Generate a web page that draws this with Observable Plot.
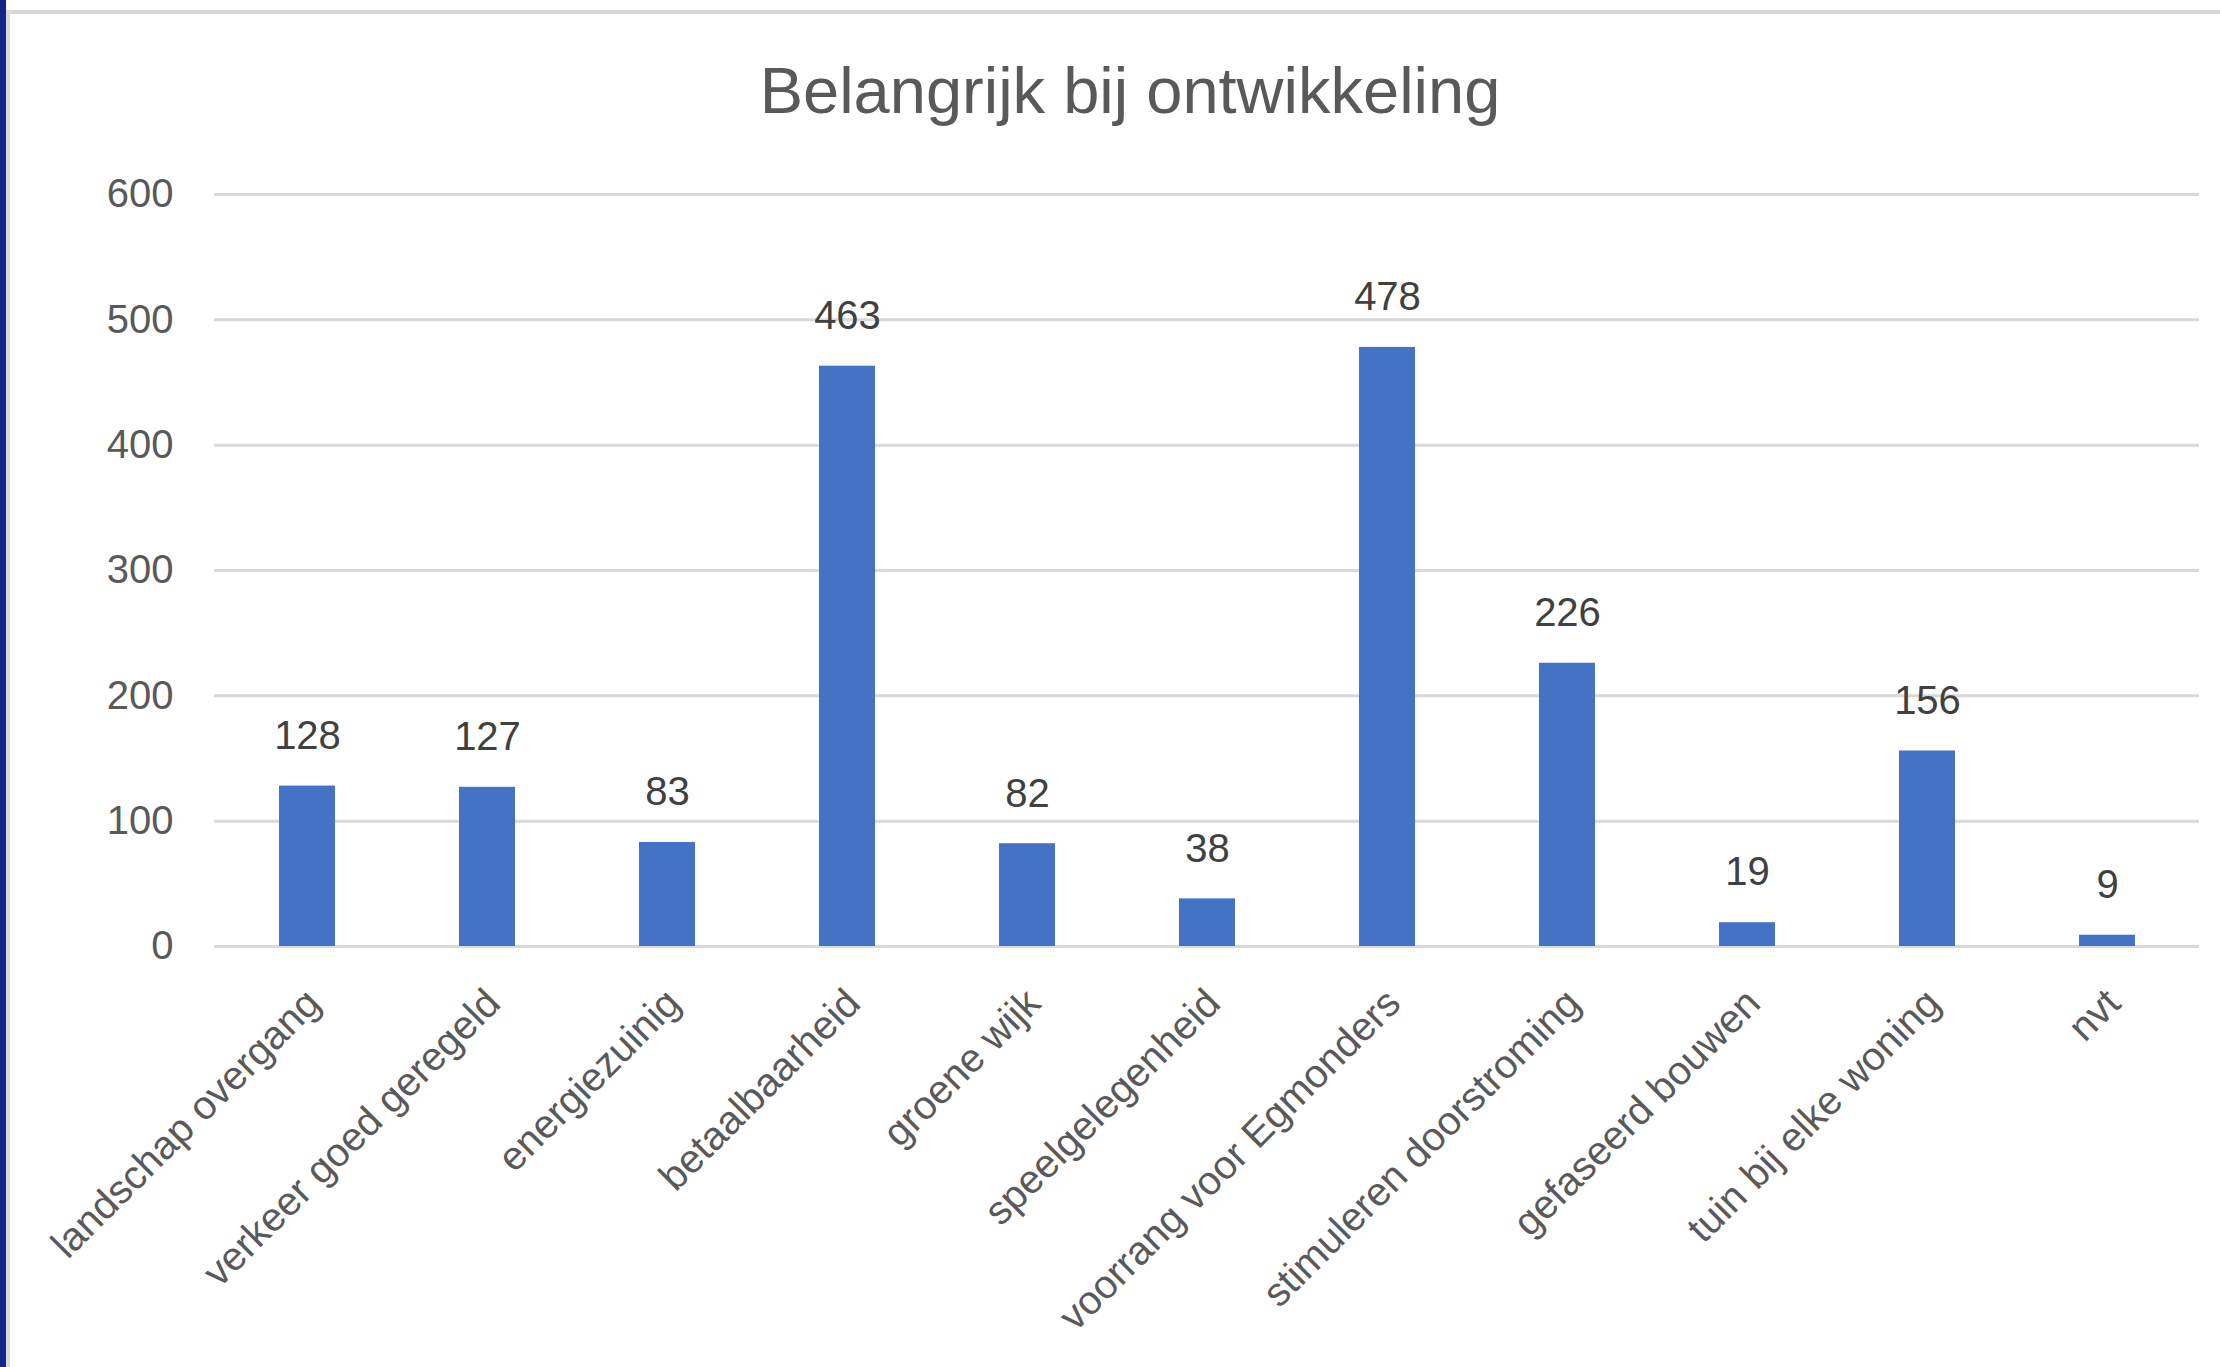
<!DOCTYPE html>
<html>
<head>
<meta charset="utf-8">
<script src="https://cdn.jsdelivr.net/npm/d3@7"></script>
<script src="https://cdn.jsdelivr.net/npm/@observablehq/plot@0.6"></script>
<style>
  html, body { margin: 0; padding: 0; background: #fff; }
  #page { position: relative; width: 2220px; height: 1367px; overflow: hidden; background: #fff; }
  #blue { position: absolute; left: 0; top: 0; width: 6px; height: 1367px; background: #14248a; }
  #gv { position: absolute; left: 6px; top: 10px; width: 4px; height: 1357px; background: #d9d9d9; }
  #gh { position: absolute; left: 6px; top: 10px; width: 2214px; height: 4px; background: #d9d9d9; }
  #title { position: absolute; left: 0; width: 2260px; top: 58px; text-align: center;
           font-family: "Liberation Sans", Arial, sans-serif; font-size: 65px; line-height: 65px; color: #595959; }
  #chart { position: absolute; left: 0; top: 150px; }
</style>
</head>
<body>
<div id="page">
  <div id="blue"></div>
  <div id="gv"></div>
  <div id="gh"></div>
  <div id="title">Belangrijk bij ontwikkeling</div>
  <div id="chart"></div>
</div>
<script>
const categories = ["landschap overgang", "verkeer goed geregeld", "energiezuinig", "betaalbaarheid", "groene wijk", "speelgelegenheid", "voorrang voor Egmonders", "stimuleren doorstroming", "gefaseerd bouwen", "tuin bij elke woning", "nvt"];
const values = [128, 127, 83, 463, 82, 38, 478, 226, 19, 156, 9];
const yTicks = [0, 100, 200, 300, 400, 500, 600];

const data = categories.map((c, i) => ({category: c, value: values[i]}));

const chart = Plot.plot({
  width: 2220,
  height: 1217,
  marginTop: 44,
  marginBottom: 421,
  marginLeft: 214,
  marginRight: 21,
  style: {fontFamily: "'Liberation Sans', Arial, sans-serif", background: "transparent"},
  x: {domain: categories, paddingInner: 0.689, paddingOuter: 0.3445, label: null},
  y: {domain: [0, 600], ticks: yTicks, label: null},
  marks: [
    Plot.gridY(yTicks, {stroke: "#d9d9d9", strokeOpacity: 1, strokeWidth: 3}),
    Plot.barY(data, {x: "category", y: "value", fill: "#4472c4"}),
    Plot.text(data, {x: "category", y: "value", text: d => String(d.value), dy: -50, lineAnchor: "middle", fontSize: 40, fill: "#404040"}),
    Plot.axisY(yTicks, {tickSize: 0, tickPadding: 41, fontSize: 40, fill: "#595959", label: null}),
    Plot.axisX({tickSize: 0, tickRotate: -45, tickPadding: 50, dx: 6, fontSize: 40, fill: "#595959", label: null})
  ]
});
document.getElementById("chart").appendChild(chart);
</script>
</body>
</html>
